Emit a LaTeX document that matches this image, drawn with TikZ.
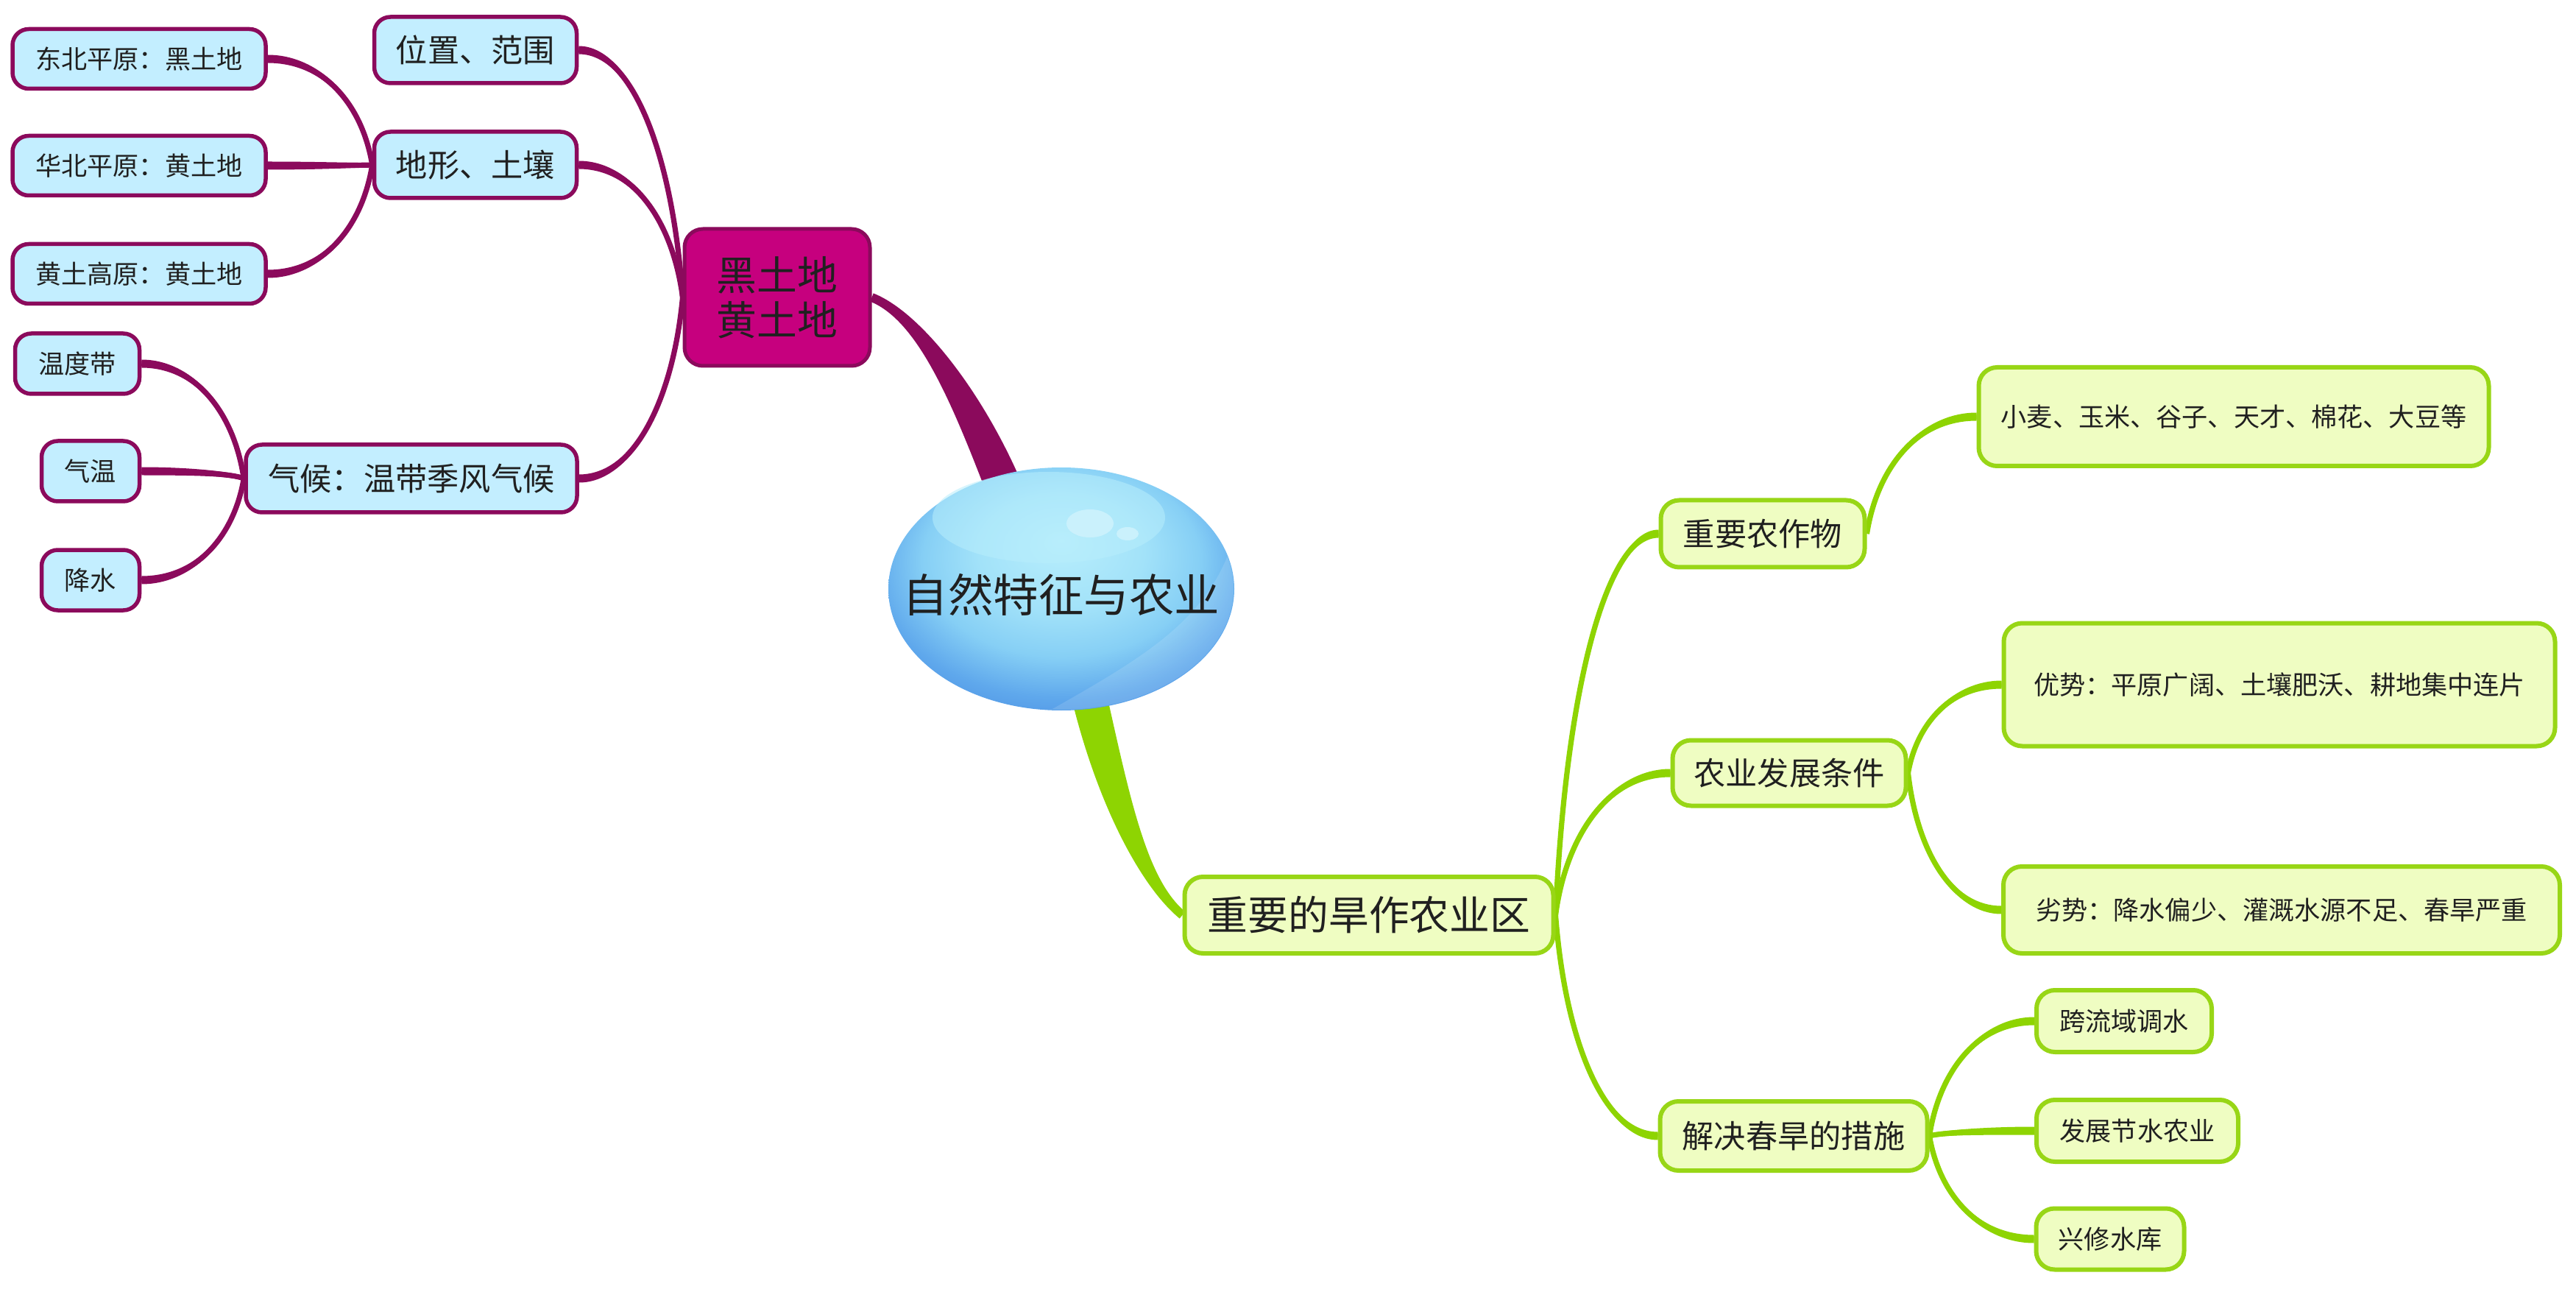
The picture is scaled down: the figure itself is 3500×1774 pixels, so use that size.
\documentclass[tikz,border=0pt]{standalone}
\usepackage{fontspec}
\setmainfont{Noto Sans CJK SC}
\usetikzlibrary{calc,shapes.geometric}

\definecolor{plum}{HTML}{8B0A5C}
\definecolor{skyfill}{HTML}{C3EEFF}
\definecolor{rosefill}{HTML}{C6007E}
\definecolor{lime}{HTML}{8ED402}
\definecolor{limeline}{HTML}{98D616}
\definecolor{limefill}{HTML}{EFFDC2}
\definecolor{ink}{HTML}{202020}
\definecolor{bubA}{HTML}{B8EEFC}
\definecolor{bubB}{HTML}{A2E2F9}
\definecolor{bubC}{HTML}{86CFF5}
\definecolor{bubD}{HTML}{5FA8EC}
\definecolor{bubE}{HTML}{4A8DE2}
\definecolor{glint}{HTML}{CFF3FD}

\pgfdeclareradialshading{bubble}{\pgfpoint{0bp}{10bp}}{%
  color(0bp)=(bubA); color(12bp)=(bubB); color(20bp)=(bubC);
  color(27bp)=(bubD); color(34bp)=(bubE); color(50bp)=(bubE)}

\pgfdeclarelayer{bg}
\pgfsetlayers{bg,main}

% filled tapering band along a cubic curve
% #1 start, #2 #3 controls, #4 end, #5 colour, #6/#7 half widths at start/end
\newcommand\taperpath[7]{%
  \coordinate (tpS) at (#1);
  \coordinate (tpA) at (#2);
  \coordinate (tpB) at (#3);
  \coordinate (tpE) at (#4);
  \coordinate (tpSL) at ($(tpS)!#6!90:(tpA)$);
  \coordinate (tpSR) at ($(tpS)!#6!-90:(tpA)$);
  \coordinate (tpEL) at ($(tpE)!#7!-90:(tpB)$);
  \coordinate (tpER) at ($(tpE)!#7!90:(tpB)$);
  \fill[#5] (tpSL) .. controls ($(tpA)+(tpSL)-(tpS)$) and ($(tpB)+(tpEL)-(tpE)$) .. (tpEL)
    -- (tpER) .. controls ($(tpB)+(tpER)-(tpE)$) and ($(tpA)+(tpSR)-(tpS)$) .. (tpSR) -- cycle;
}
% curved connector from a parent anchor to a child anchor
\newcommand\taper[3]{%
  \coordinate (tqP) at (#1);
  \coordinate (tqC) at (#2);
  \coordinate (tqu) at ($(tqP)!0.1!(tqC)$);
  \coordinate (tqv) at ($(tqP)!0.6!(tqC)$);
  \coordinate (tqw) at ($(tqP)!0.5!(tqC)$);
  \taperpath{tqP}{tqu |- tqv}{tqw |- tqC}{tqC}{#3}{0.3mm}{0.55mm}
  \draw[#3, line width=0.72mm] (tqP) .. controls (tpA) and (tpB) .. (tqC);
}

\tikzset{
  fsS/.style={font=\fontsize{10pt}{12pt}\selectfont},
  fsM/.style={font=\fontsize{12.3pt}{14pt}\selectfont},
  fsL/.style={font=\fontsize{15.6pt}{17.4pt}\selectfont},
  cyanbox/.style={draw=plum, line width=0.55mm, fill=skyfill, rounded corners=2.2mm,
    inner sep=0pt, text=ink, align=center},
  greenbox/.style={draw=limeline, line width=0.6mm, fill=limefill, rounded corners=2.5mm,
    inner sep=0pt, text=ink, align=center},
  rosebox/.style={draw=plum, line width=0.5mm, fill=rosefill, rounded corners=2.5mm,
    inner sep=0pt, text=ink, align=center, fsL},
}

\begin{document}
\begin{tikzpicture}[x=0.1mm, y=-0.1mm]
\useasboundingbox (0,0) rectangle (3500,1774);

% central topic
\node[ellipse, shading=bubble, minimum width=47mm, minimum height=33mm, inner sep=0pt] (root) at (1442,800) {};
\begin{scope}
  \clip (root.center) ellipse [x radius=23.4mm, y radius=16.4mm];
  \fill[white, opacity=0.13] (1678,725) .. controls (1645,845) and (1550,895) .. (1400,980)
    -- (1720,1000) -- cycle;
\end{scope}
\fill[bubA, opacity=0.55] (1425,703) ellipse [x radius=15.8mm, y radius=6.2mm];
\fill[glint, opacity=0.85] (1481,711) ellipse [x radius=3.2mm, y radius=1.9mm];
\fill[glint, opacity=0.85] (1532,725) ellipse [x radius=1.5mm, y radius=0.9mm];
\node[text=ink, font=\fontsize{17.5pt}{20pt}\selectfont] (rootlabel) at (1442,808) {自然特征与农业};

% left branch
\node[rosebox, minimum width=25.2mm, minimum height=18.6mm] (soil) at (1056,404) {黑土地\\黄土地};
\node[cyanbox, fsM, minimum width=27.5mm, minimum height=9mm] (pos) at (646,68) {位置、范围};
\node[cyanbox, fsM, minimum width=27.5mm, minimum height=9mm] (terrain) at (646,224) {地形、土壤};
\node[cyanbox, fsM, minimum width=45mm, minimum height=9.2mm] (climate) at (559,650) {气候：温带季风气候};
\node[cyanbox, fsS, minimum width=34.4mm, minimum height=8.1mm] (ne) at (189,80) {东北平原：黑土地};
\node[cyanbox, fsS, minimum width=34.4mm, minimum height=8.1mm] (nc) at (189,225) {华北平原：黄土地};
\node[cyanbox, fsS, minimum width=34.4mm, minimum height=8.1mm] (lp) at (189,372) {黄土高原：黄土地};
\node[cyanbox, fsS, minimum width=16.9mm, minimum height=8.2mm] (tz) at (105,494) {温度带};
\node[cyanbox, fsS, minimum width=13.3mm, minimum height=8.2mm] (temp) at (123,640) {气温};
\node[cyanbox, fsS, minimum width=13.3mm, minimum height=8.2mm] (rain) at (123,788) {降水};

% right branch
\node[greenbox, fsL, minimum width=50.1mm, minimum height=10.4mm] (dry) at (1860,1243) {重要的旱作农业区};
\node[greenbox, fsM, minimum width=27.7mm, minimum height=9.1mm] (crops) at (2395,725) {重要农作物};
\node[greenbox, fsM, minimum width=31.7mm, minimum height=8.9mm] (cond) at (2431,1050) {农业发展条件};
\node[greenbox, fsM, minimum width=36.3mm, minimum height=9.4mm] (fix) at (2437,1543) {解决春旱的措施};
\node[greenbox, fsS, minimum width=69.3mm, minimum height=13.4mm] (list) at (3035,566) {小麦、玉米、谷子、天才、棉花、大豆等};
\node[greenbox, fsS, minimum width=74.9mm, minimum height=16.7mm] (adv) at (3097,930) {优势：平原广阔、土壤肥沃、耕地集中连片};
\node[greenbox, fsS, minimum width=75.6mm, minimum height=11.8mm] (dis) at (3100,1236) {劣势：降水偏少、灌溉水源不足、春旱严重};
\node[greenbox, fsS, minimum width=23.8mm, minimum height=8.4mm] (canal) at (2886,1387) {跨流域调水};
\node[greenbox, fsS, minimum width=27.4mm, minimum height=8.4mm] (save) at (2904,1536) {发展节水农业};
\node[greenbox, fsS, minimum width=20.1mm, minimum height=8.3mm] (dam) at (2867,1683) {兴修水库};

\begin{pgfonlayer}{bg}
  \fill[white] (0,0) rectangle (3500,1774);
  % main branches
  \taperpath{1375,690}{1325,560}{1255,432}{soil.east}{plum}{2.5mm}{0.6mm}
  \taperpath{1475,925}{1510,1080}{1552,1198}{dry.west}{lime}{2.4mm}{0.6mm}
  % left sub-branches
  \taper{soil.west}{pos.east}{plum}
  \taper{soil.west}{terrain.east}{plum}
  \taper{soil.west}{climate.east}{plum}
  \taper{terrain.west}{ne.east}{plum}
  \taper{terrain.west}{nc.east}{plum}
  \taper{terrain.west}{lp.east}{plum}
  \taper{climate.west}{tz.east}{plum}
  \taper{climate.west}{temp.east}{plum}
  \taper{climate.west}{rain.east}{plum}
  % right sub-branches
  \taper{dry.east}{crops.west}{lime}
  \taper{dry.east}{cond.west}{lime}
  \taper{dry.east}{fix.west}{lime}
  \taper{crops.east}{list.west}{lime}
  \taper{cond.east}{adv.west}{lime}
  \taper{cond.east}{dis.west}{lime}
  \taper{fix.east}{canal.west}{lime}
  \taper{fix.east}{save.west}{lime}
  \taper{fix.east}{dam.west}{lime}
\end{pgfonlayer}
\end{tikzpicture}
\end{document}
